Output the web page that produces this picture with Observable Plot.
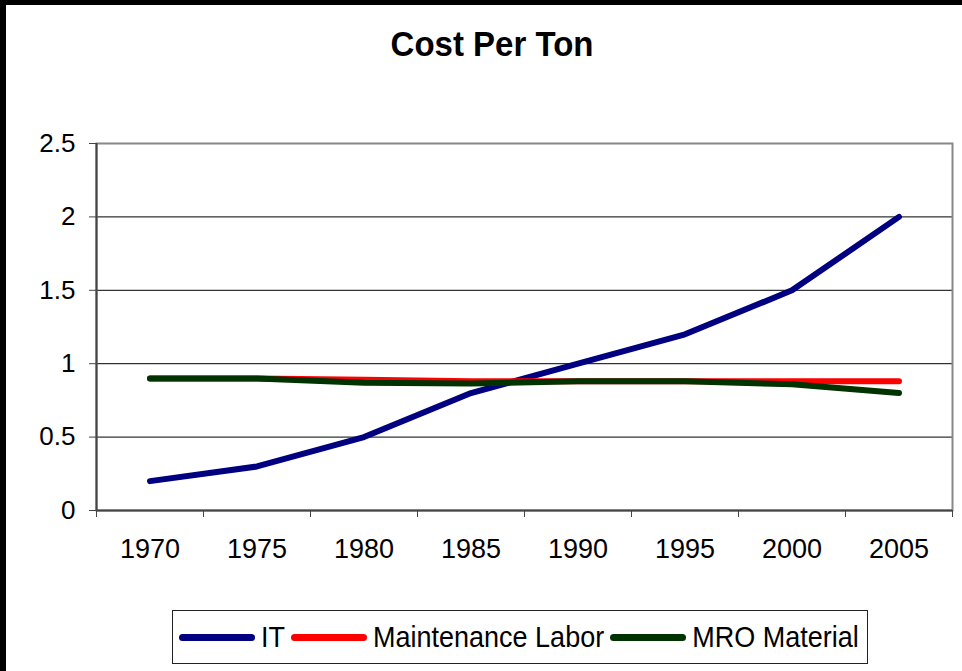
<!DOCTYPE html>
<html>
<head>
<meta charset="utf-8">
<script src="https://cdn.jsdelivr.net/npm/d3@7"></script>
<script src="https://cdn.jsdelivr.net/npm/@observablehq/plot@0.6"></script>
<style>
  html, body { margin: 0; padding: 0; background: #fff; }
  #wrap { position: relative; width: 962px; height: 671px; overflow: hidden; background: #fff; font-family: "Liberation Sans", Arial, sans-serif; }
  #barL { position: absolute; left: 0; top: 0; width: 6px; height: 671px; background: #000; }
  #barT { position: absolute; left: 0; top: 0; width: 962px; height: 5px; background: #000; }
  #title { position: absolute; left: 0; width: 984px; top: 24px; text-align: center; font-weight: bold; font-size: 33px; line-height: 40px; color: #000; transform: scaleY(1.06); }
  #chart { position: absolute; left: 0; top: 100px; }
  #legend { position: absolute; left: 172px; top: 610px; width: 694px; height: 52px; border: 1px solid #222; display: flex; align-items: center; }
  .item { display: flex; align-items: center; margin-left: 6px; }
  .item:first-child { margin-left: 6px; }
  .sw { width: 76px; height: 7px; border-radius: 3.5px; margin-right: 6px; }
  .lab { font-size: 27px; color: #000; white-space: nowrap; display: inline-block; transform: scaleY(1.08); }
</style>
</head>
<body>
<div id="wrap">
  <div id="barL"></div>
  <div id="barT"></div>
  <div id="title">Cost Per Ton</div>
  <div id="chart"></div>
  <div id="legend"></div>
</div>
<script>
const years = [1970, 1975, 1980, 1985, 1990, 1995, 2000, 2005];
const itCost = [0.2, 0.3, 0.5, 0.8, 1.0, 1.2, 1.5, 2.0];
const laborCost = [0.9, 0.9, 0.89, 0.88, 0.88, 0.88, 0.88, 0.88];
const mroCost = [0.9, 0.9, 0.87, 0.865, 0.88, 0.88, 0.86, 0.8];
const yTicks = [0, 0.5, 1, 1.5, 2, 2.5];
const seriesNames = ["IT", "Maintenance Labor", "MRO Material"];
const seriesColors = ["#000080", "#FF0000", "#003300"];
const seriesValues = [itCost, laborCost, mroCost];

const half = (years[1] - years[0]) / 2;
const xDomain = [years[0] - half, years[years.length - 1] + half];
const bounds = years.map(y => y - half).concat([years[years.length - 1] + half]);

const rows = [];
seriesNames.forEach((name, i) => {
  years.forEach((yr, j) => rows.push({series: name, year: yr, value: seriesValues[i][j]}));
});

const plot = Plot.plot({
  width: 962,
  height: 480,
  marginLeft: 96,
  marginRight: 10,
  marginTop: 43,
  marginBottom: 70,
  style: {fontFamily: "'Liberation Sans', Arial, sans-serif", color: "#000", background: "transparent"},
  x: {domain: xDomain},
  y: {domain: [0, 2.5]},
  color: {domain: seriesNames, range: seriesColors},
  marks: [
    Plot.gridY({ticks: yTicks.filter(t => t > 0 && t < 2.5), stroke: "#000", strokeOpacity: 1, strokeWidth: 1}),
    Plot.frame({stroke: "#888", strokeWidth: 2}),
    Plot.ruleX([xDomain[0]], {stroke: "#444", strokeWidth: 2}),
    Plot.ruleY([0], {stroke: "#444", strokeWidth: 2}),
    Plot.axisY({ticks: yTicks, tickSize: 7, tickPadding: 14, fontSize: 26, tickFormat: d => String(d), stroke: "#444", label: null}),
    Plot.axisX({ticks: bounds, tickSize: 7, tickFormat: () => "", stroke: "#444", label: null}),
    Plot.axisX({ticks: years, tickSize: 0, tickPadding: 28, fontSize: 27, tickFormat: d => String(d), label: null}),
    ...seriesNames.map(name => Plot.line(rows.filter(r => r.series === name), {
      x: "year", y: "value", stroke: "series", strokeWidth: 6, strokeLinecap: "round", strokeLinejoin: "round"
    }))
  ]
});
document.getElementById("chart").appendChild(plot);

const legend = document.getElementById("legend");
seriesNames.forEach((name, i) => {
  const item = document.createElement("div");
  item.className = "item";
  const sw = document.createElement("div");
  sw.className = "sw";
  sw.style.background = seriesColors[i];
  const lab = document.createElement("span");
  lab.className = "lab";
  lab.textContent = name;
  item.appendChild(sw);
  item.appendChild(lab);
  legend.appendChild(item);
});
</script>
</body>
</html>
